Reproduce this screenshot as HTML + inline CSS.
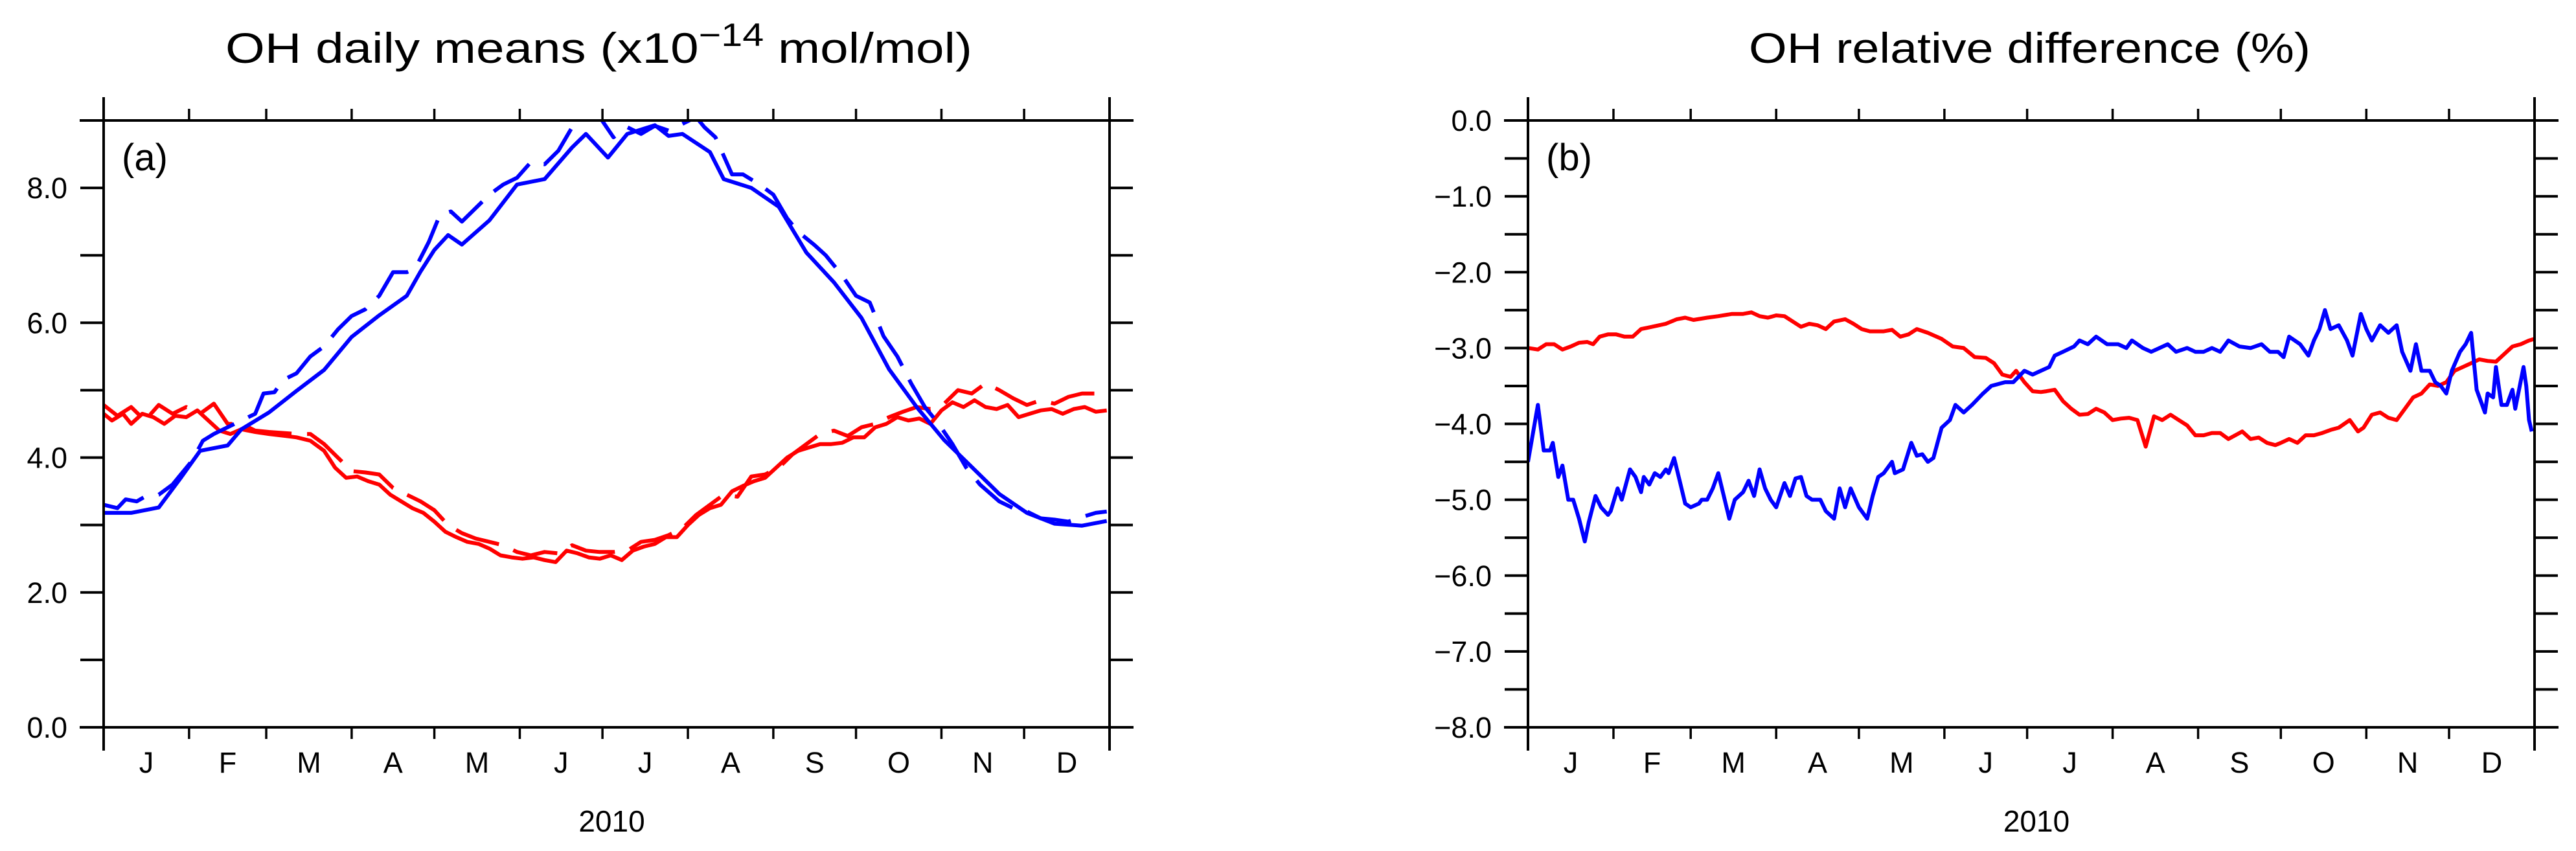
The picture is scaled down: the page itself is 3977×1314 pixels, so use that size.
<!DOCTYPE html>
<html><head><meta charset="utf-8"><style>
html,body{margin:0;padding:0;background:#fff;}
svg{display:block;font-family:"Liberation Sans",sans-serif;}
</style></head><body>
<svg id="chart" width="3977" height="1314" viewBox="0 0 3977 1314" xmlns="http://www.w3.org/2000/svg">
<text x="348" y="97" font-size="66" textLength="1153" lengthAdjust="spacingAndGlyphs">OH daily means (x10<tspan dy="-26" font-size="50">−14</tspan><tspan dy="26"> mol/mol)</tspan></text>
<text x="2700" y="97" font-size="66" textLength="867" lengthAdjust="spacingAndGlyphs">OH relative difference (%)</text>
<g id="pa"></g>
<g id="pb"></g>
</svg>
<script>
const months = ["J","F","M","A","M","J","J","A","S","O","N","D"];
const monthStarts = [0,31,59,90,120,151,181,212,243,273,304,334,365];
const yTicksA = [0,2,4,6,8];
const yTickLabelsA = ["0.0","2.0","4.0","6.0","8.0"];
const yTicksB = [0,-1,-2,-3,-4,-5,-6,-7,-8];
const yTickLabelsB = ["0.0","−1.0","−2.0","−3.0","−4.0","−5.0","−6.0","−7.0","−8.0"];

const daysBlueSolidA = [0,10,20,28,35,45,50,60,70,80,90,100,110,115,120,125,130,140,150,160,170,175,183,190,200,205,210,220,225,235,245,255,265,275,285,295,305,315,325,335,345,355,364];
const valsBlueSolidA = [3.18,3.18,3.26,3.7,4.1,4.18,4.42,4.67,4.99,5.3,5.79,6.11,6.4,6.76,7.08,7.3,7.16,7.52,8.05,8.13,8.6,8.8,8.45,8.8,8.93,8.77,8.8,8.53,8.13,8.0,7.72,7.04,6.6,6.07,5.31,4.75,4.26,3.86,3.46,3.18,3.02,2.99,3.06];
const daysBlueDashA = [0,5,8,12,15,20,25,28,32,36,40,45,50,55,58,62,65,70,75,80,85,90,95,100,105,110,113,118,122,126,130,135,140,145,150,155,160,165,170,173,180,185,190,195,200,205,210,215,218,222,228,232,238,243,248,252,258,262,268,273,278,283,288,293,298,303,308,313,318,325,330,335,340,345,350,355,360,364];
const valsBlueDashA = [3.3,3.25,3.38,3.35,3.42,3.45,3.6,3.75,3.95,4.25,4.35,4.45,4.55,4.65,4.95,4.97,5.15,5.25,5.5,5.65,5.9,6.1,6.2,6.4,6.75,6.75,6.8,7.2,7.6,7.65,7.5,7.7,7.9,8.05,8.15,8.38,8.35,8.55,8.9,9.05,9.05,8.75,8.9,8.8,8.92,8.85,8.95,9.05,8.9,8.75,8.2,8.2,8.05,7.9,7.55,7.35,7.15,7.0,6.7,6.4,6.3,5.8,5.5,5.1,4.75,4.5,4.2,3.85,3.6,3.35,3.25,3.2,3.1,3.08,3.05,3.12,3.18,3.2];
const daysRedSolidA = [0,3,7,10,14,18,22,26,30,34,38,42,46,50,55,60,66,70,75,80,84,88,92,96,100,104,108,112,116,120,124,128,132,136,140,144,148,152,156,160,164,168,172,176,180,184,188,192,196,200,204,208,212,216,220,224,228,232,236,240,244,248,252,256,260,264,268,272,276,280,284,288,292,296,300,304,308,312,316,320,324,328,332,336,340,344,348,352,356,360,364];
const valsRedSolidA = [4.65,4.55,4.65,4.5,4.65,4.6,4.5,4.62,4.6,4.7,4.55,4.4,4.35,4.42,4.38,4.35,4.32,4.3,4.25,4.1,3.85,3.7,3.72,3.65,3.6,3.45,3.35,3.25,3.18,3.05,2.9,2.82,2.75,2.72,2.65,2.55,2.52,2.5,2.52,2.48,2.45,2.62,2.58,2.52,2.5,2.55,2.48,2.62,2.68,2.72,2.82,2.82,3.0,3.15,3.25,3.3,3.5,3.58,3.65,3.7,3.85,4.0,4.1,4.15,4.2,4.2,4.22,4.3,4.3,4.45,4.5,4.6,4.55,4.58,4.5,4.7,4.82,4.75,4.85,4.75,4.72,4.78,4.6,4.65,4.7,4.72,4.65,4.72,4.75,4.68,4.7];
const daysRedDashA = [0,5,10,15,20,25,30,35,40,45,50,55,60,70,75,80,85,90,95,100,105,110,115,120,125,130,135,140,145,150,155,160,165,170,175,180,185,190,195,200,205,210,215,220,225,230,235,240,245,250,255,260,265,270,275,280,285,290,295,300,305,310,315,320,325,330,335,340,345,350,355,364];
const valsRedDashA = [4.78,4.62,4.75,4.55,4.78,4.65,4.75,4.65,4.8,4.5,4.5,4.4,4.38,4.35,4.35,4.2,4.0,3.8,3.78,3.75,3.55,3.45,3.35,3.22,3.0,2.88,2.8,2.75,2.7,2.6,2.55,2.6,2.58,2.7,2.62,2.6,2.6,2.62,2.75,2.78,2.85,2.95,3.15,3.3,3.45,3.42,3.72,3.75,3.85,4.05,4.2,4.35,4.4,4.32,4.45,4.5,4.6,4.68,4.75,4.72,4.8,5.0,4.95,5.1,5.0,4.88,4.78,4.85,4.8,4.9,4.95,4.95];

const daysBlueB = [0,3.6,5.7,8,9,11,12.5,14.6,16.4,18.5,20.6,22,24.5,26.5,29,30,32.5,34,37,39,41,42,44,46,48,50,51,53,55,57,59,62,63,65,67,69,71,73,75,78,80,82,84,86,88,90,93,95,97,99,101,103,106,108,111,113,115,117,120,123,125,127,129,132,133,136,139,141,143,145,147,150,153,155,158,161,165,168,173,176,180,183,186,189,191,194,198,200,203,206,210,214,217,219,223,226,229,232,235,239,242,245,248,251,254,258,262,266,269,272,274,276,280,283,285,287,289,291,294,297,299,302,304,306,309,312,315,317,320,322,324,327,329,331,333,335,338,340,342,344,347,348,350,351,353,355,357,358,361,362,363,364];
const valsBlueB = [-4.5,-3.75,-4.35,-4.35,-4.25,-4.7,-4.55,-5.0,-5.0,-5.25,-5.55,-5.3,-4.95,-5.1,-5.2,-5.15,-4.85,-5.0,-4.6,-4.7,-4.9,-4.7,-4.8,-4.65,-4.7,-4.6,-4.65,-4.45,-4.75,-5.05,-5.1,-5.05,-5.0,-5.0,-4.85,-4.65,-4.95,-5.25,-5.0,-4.9,-4.75,-4.95,-4.6,-4.85,-5.0,-5.1,-4.78,-4.95,-4.72,-4.7,-4.95,-5.0,-5.0,-5.15,-5.25,-4.85,-5.1,-4.85,-5.1,-5.25,-4.95,-4.7,-4.65,-4.5,-4.65,-4.6,-4.25,-4.42,-4.4,-4.5,-4.45,-4.05,-3.95,-3.75,-3.85,-3.75,-3.6,-3.5,-3.45,-3.45,-3.3,-3.35,-3.3,-3.25,-3.1,-3.05,-2.98,-2.9,-2.95,-2.85,-2.95,-2.95,-3.0,-2.9,-3.0,-3.05,-3.0,-2.95,-3.05,-3.0,-3.05,-3.05,-3.0,-3.05,-2.9,-2.98,-3.0,-2.95,-3.05,-3.05,-3.12,-2.85,-2.95,-3.1,-2.9,-2.75,-2.5,-2.75,-2.7,-2.9,-3.1,-2.55,-2.75,-2.9,-2.7,-2.8,-2.7,-3.05,-3.3,-2.95,-3.3,-3.3,-3.45,-3.5,-3.6,-3.3,-3.05,-2.95,-2.8,-3.55,-3.85,-3.6,-3.65,-3.25,-3.75,-3.75,-3.55,-3.8,-3.25,-3.5,-3.95,-4.1];
const daysRedB = [0,3.6,6.6,9.5,12.5,15.5,18.5,21.5,23.6,26,29,32,35,38,41,45,50,54,57,60,65,69,74,78,81,84,87,90,93,96,99,102,105,108,111,115,118,121,124,129,132,135,138,141,145,150,154,158,162,166,169,172,175,177,180,183,186,188,191,194,197,200,203,206,209,212,215,218,221,224,227,230,233,236,239,242,245,248,251,254,259,262,265,268,271,273,276,279,282,285,288,291,294,298,301,303,306,309,312,315,318,321,324,327,330,333,336,339,342,345,348,351,354,357,360,363,365];
const valsRedB = [-3.0,-3.02,-2.95,-2.95,-3.02,-2.98,-2.93,-2.92,-2.95,-2.85,-2.82,-2.82,-2.85,-2.85,-2.75,-2.72,-2.68,-2.62,-2.6,-2.63,-2.6,-2.58,-2.55,-2.55,-2.53,-2.58,-2.6,-2.57,-2.58,-2.65,-2.72,-2.68,-2.7,-2.75,-2.65,-2.62,-2.68,-2.75,-2.78,-2.78,-2.76,-2.85,-2.82,-2.75,-2.8,-2.88,-2.98,-3.0,-3.12,-3.13,-3.2,-3.35,-3.38,-3.3,-3.45,-3.57,-3.58,-3.57,-3.55,-3.7,-3.8,-3.88,-3.87,-3.8,-3.85,-3.95,-3.93,-3.92,-3.95,-4.3,-3.9,-3.95,-3.88,-3.95,-4.02,-4.15,-4.15,-4.12,-4.12,-4.2,-4.1,-4.2,-4.18,-4.25,-4.28,-4.25,-4.2,-4.25,-4.15,-4.15,-4.12,-4.08,-4.05,-3.95,-4.1,-4.05,-3.88,-3.85,-3.92,-3.95,-3.8,-3.65,-3.6,-3.48,-3.5,-3.45,-3.3,-3.25,-3.2,-3.15,-3.17,-3.18,-3.08,-2.98,-2.95,-2.9,-2.88];

const NS="http://www.w3.org/2000/svg";
function mk(parent,tag,attrs){const e=document.createElementNS(NS,tag);for(const k in attrs)e.setAttribute(k,attrs[k]);parent.appendChild(e);return e;}

function panel(g,opt){
  const x0=opt.x0,x1=opt.x1,yT=186,yB=1123;
  const xs=d=>x0+d*(x1-x0)/365;
  const ys=v=>yB-(v-opt.ymin)*(yB-yT)/(opt.ymax-opt.ymin);
  const cid="clip"+opt.id;
  const cp=mk(g,"clipPath",{id:cid});mk(cp,"rect",{x:x0,y:yT,width:x1-x0,height:yB-yT});
  // series
  opt.series.forEach(s=>{
    let d="";s.days.forEach((dd,i)=>{d+=(i?"L":"M")+xs(dd).toFixed(1)+","+ys(s.vals[i]).toFixed(1);});
    const p=mk(g,"path",{d:d,fill:"none",stroke:s.color,"stroke-width":6,"stroke-linejoin":"round","clip-path":"url(#"+cid+")"});
    if(s.dash)p.setAttribute("stroke-dasharray","70 24");
    
    
  });
  // frame
  const ax=mk(g,"g",{stroke:"#000","stroke-width":4});
  
  
  mk(ax,"line",{x1:x0-37,y1:yT,x2:x1+37,y2:yT});
  mk(ax,"line",{x1:x0-37,y1:yB,x2:x1+37,y2:yB});
  mk(ax,"line",{x1:x0,y1:yT-36,x2:x0,y2:yB+36});
  mk(ax,"line",{x1:x1,y1:yT-36,x2:x1,y2:yB+36});
  monthStarts.slice(1,12).forEach(m=>{
    mk(ax,"line",{x1:xs(m),y1:yT,x2:xs(m),y2:yT-18,"stroke-width":3.5});
    mk(ax,"line",{x1:xs(m),y1:yB,x2:xs(m),y2:yB+18,"stroke-width":3.5});
  });
  opt.minor.forEach(v=>{
    mk(ax,"line",{x1:x0-36,y1:ys(v),x2:x0,y2:ys(v)});
    mk(ax,"line",{x1:x1,y1:ys(v),x2:x1+36,y2:ys(v)});
  });
  opt.ticks.forEach((v,i)=>{
    mk(ax,"line",{x1:x0-36,y1:ys(v),x2:x0,y2:ys(v)});
    mk(ax,"line",{x1:x1,y1:ys(v),x2:x1+36,y2:ys(v)});
    const t=mk(g,"text",{x:x0-56,y:ys(v)+16,"font-size":45,"text-anchor":"end"});
    t.textContent=opt.labels[i];
    
    
  });
  months.forEach((m,i)=>{
    const t=mk(g,"text",{x:xs((monthStarts[i]+monthStarts[i+1])/2),y:1193,"font-size":45,"text-anchor":"middle"});
    t.textContent=m;
    
    
  });
  const yr=mk(g,"text",{x:(x0+x1)/2+8,y:1284,"font-size":46,"text-anchor":"middle"});
  yr.textContent="2010";
  
  
  const pl=mk(g,"text",{x:x0+28,y:263,"font-size":58});
  pl.textContent=opt.tag;
  
  
}
panel(document.getElementById("pa"),{id:"a",x0:160,x1:1713,ymin:0,ymax:9,ticks:yTicksA,labels:yTickLabelsA,minor:[1,3,5,7,9],tag:"(a)",
 series:[{days:daysRedSolidA,vals:valsRedSolidA,color:"#ff0000",name:"red-solid-line"},
         {days:daysRedDashA,vals:valsRedDashA,color:"#ff0000",dash:true,name:"red-dashed-line"},
         {days:daysBlueSolidA,vals:valsBlueSolidA,color:"#0000ff",name:"blue-solid-line"},
         {days:daysBlueDashA,vals:valsBlueDashA,color:"#0000ff",dash:true,name:"blue-dashed-line"}]});
panel(document.getElementById("pb"),{id:"b",x0:2359,x1:3913,ymin:-8,ymax:0,ticks:yTicksB,labels:yTickLabelsB,minor:[-0.5,-1.5,-2.5,-3.5,-4.5,-5.5,-6.5,-7.5],tag:"(b)",
 series:[{days:daysRedB,vals:valsRedB,color:"#ff0000",name:"red-difference-line"},
         {days:daysBlueB,vals:valsBlueB,color:"#0000ff",name:"blue-difference-line"}]});
</script>
</body></html>
